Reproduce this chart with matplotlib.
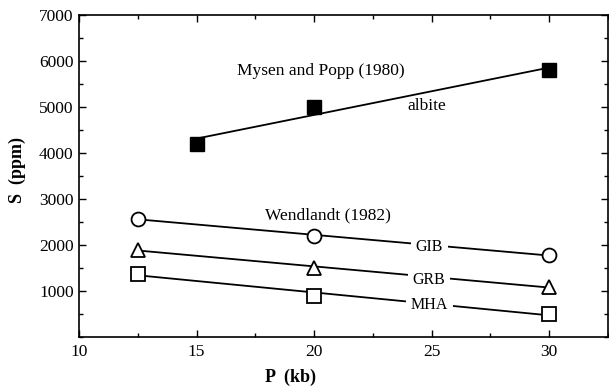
import numpy as np
import matplotlib
matplotlib.use("Agg")
import matplotlib.pyplot as plt
from matplotlib.ticker import MultipleLocator, FixedLocator

plt.rcParams["font.family"] = ["Liberation Serif", "DejaVu Serif"]

# albite (Mysen and Popp 1980)
p_albite = [15, 20, 30]
s_albite = [4200, 5000, 5800]

# Wendlandt (1982)
p_wend = [12.5, 20, 30]
s_gib = [2570, 2200, 1780]
s_grb = [1900, 1500, 1090]
s_mha = [1380, 900, 500]

y_ticks = [1000, 2000, 3000, 4000, 5000, 6000, 7000]
x_ticks = [10, 15, 20, 25, 30]

fig = plt.figure(figsize=(6.09, 3.86), dpi=100)
ax = fig.add_axes([0.130, 0.127, 0.868, 0.834])

lw = 1.3
bbox = dict(facecolor="white", edgecolor="none", pad=3.5)


def fit_line(px, py):
    k, b = np.polyfit(px, py, 1)
    xs = np.array([px[0], px[-1]])
    return xs, k * xs + b


xs, ys = fit_line(p_albite, s_albite)
ax.plot(xs, ys, color="k", lw=lw, zorder=1)
ax.plot(p_albite, s_albite, "s", color="k", ms=10, zorder=3)

for vals, mk in [(s_gib, "o"), (s_grb, "^"), (s_mha, "s")]:
    xs, ys = fit_line(p_wend, vals)
    ax.plot(xs, ys, color="k", lw=lw, zorder=1)
    ax.plot(p_wend, vals, mk, mfc="white", mec="k", mew=1.3, ms=10, zorder=3)

ax.text(20.3, 5780, "Mysen and Popp (1980)", ha="center", va="center", fontsize=12.5)
ax.text(24.8, 5030, "albite", ha="center", va="center", fontsize=12.5)
ax.text(20.6, 2650, "Wendlandt (1982)", ha="center", va="center", fontsize=12.5)
ax.text(24.9, 1960, "GIB", ha="center", va="center", fontsize=11.5, bbox=bbox, zorder=2)
ax.text(24.9, 1240, "GRB", ha="center", va="center", fontsize=11.5, bbox=bbox, zorder=2)
ax.text(24.9, 700, "MHA", ha="center", va="center", fontsize=11.5, bbox=bbox, zorder=2)

ax.set_xlim(10, 32.5)
ax.set_ylim(0, 7000)
ax.xaxis.set_major_locator(FixedLocator(x_ticks))
ax.xaxis.set_minor_locator(MultipleLocator(2.5))
ax.yaxis.set_major_locator(FixedLocator(y_ticks))
ax.yaxis.set_minor_locator(MultipleLocator(500))
ax.tick_params(which="both", direction="in", top=True, right=True, labelsize=12.5, width=1)
ax.tick_params(which="major", length=5)
ax.tick_params(which="minor", length=3)
ax.tick_params(axis="x", which="major", pad=5)
ax.tick_params(axis="y", which="major", pad=4)
for sp in ax.spines.values():
    sp.set_linewidth(1.2)

ax.set_xlabel("P  (kb)", fontsize=13, fontweight="bold")
ax.xaxis.set_label_coords(0.40, -0.10)
ax.set_ylabel("S  (ppm)", fontsize=13, fontweight="bold")
ax.yaxis.set_label_coords(-0.10, 0.52)

fig.savefig("out.png", dpi=100)
